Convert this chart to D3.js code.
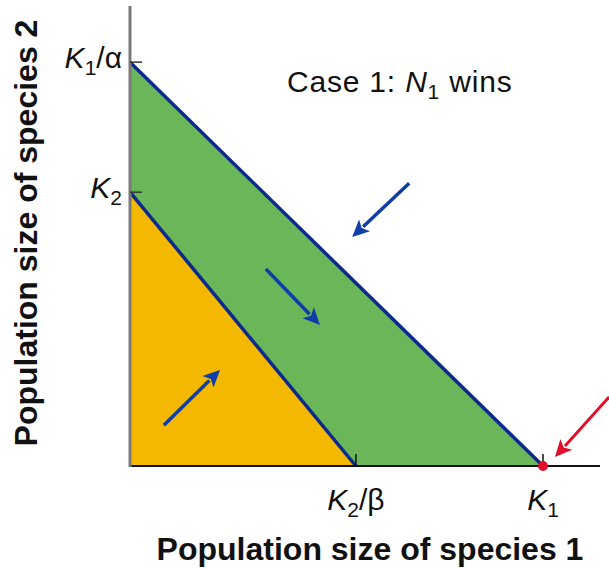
<!DOCTYPE html>
<html>
<head>
<meta charset="utf-8">
<script src="https://cdn.jsdelivr.net/npm/d3@7"></script>
<style>
  html, body { margin: 0; padding: 0; background: #fff; }
  svg { display: block; }
</style>
</head>
<body>
<svg id="chart" width="609" height="569"></svg>
<script>
// Lotka–Volterra competition: zero-growth isoclines (Case 1, N1 wins)
const K1 = 1.0;          // carrying capacity of species 1
const K1overAlpha = 1.0; // species 1 isocline intercept on N2 axis
const K2 = 0.678;        // carrying capacity of species 2
const K2overBeta = 0.547;// species 2 isocline intercept on N1 axis

const xTicks = [
  { value: K2overBeta, main: "K", sub: "2", tail: "/β" },
  { value: K1, main: "K", sub: "1", tail: "" }
];
const yTicks = [
  { value: K1overAlpha, main: "K", sub: "1", tail: "/α" },
  { value: K2, main: "K", sub: "2", tail: "" }
];

// trajectory arrows [from N1, from N2, to N1, to N2]
const blueArrows = [
  [0.676, 0.700, 0.538, 0.567],
  [0.329, 0.488, 0.460, 0.349],
  [0.082, 0.101, 0.218, 0.238]
];
const redArrows = [
  [1.160, 0.171, 1.029, 0.022]
];

const svg = d3.select("#chart");
const x = d3.scaleLinear().domain([0, 1.138]).range([130, 600]);
const y = d3.scaleLinear().domain([0, 1.139]).range([466, 6]);

const fontFam = "'Liberation Sans', Arial, Helvetica, sans-serif";
const green = "#6cb65a", yellow = "#f4b800", navy = "#0b2a8e", arrowBlue = "#0f3fa6", red = "#e0102a";

// regions
const line = d3.line().x(d => x(d[0])).y(d => y(d[1]));
svg.append("path")
  .attr("d", line([[0, K1overAlpha], [K1, 0], [K2overBeta, 0], [0, K2]]) + "Z")
  .attr("fill", green);
svg.append("path")
  .attr("d", line([[0, 0], [0, K2], [K2overBeta, 0]]) + "Z")
  .attr("fill", yellow);

// isoclines
svg.append("path").attr("d", line([[0, K1overAlpha], [K1, 0]]))
  .attr("stroke", navy).attr("stroke-width", 3.5).attr("fill", "none");
svg.append("path").attr("d", line([[0, K2], [K2overBeta, 0]]))
  .attr("stroke", navy).attr("stroke-width", 3.5).attr("fill", "none");

// axes
svg.append("line").attr("x1", x(0)).attr("x2", x(1.138)).attr("y1", y(0)).attr("y2", y(0))
  .attr("stroke", "#111").attr("stroke-width", 2);
svg.append("line").attr("x1", x(0)).attr("x2", x(0)).attr("y1", y(1.139)).attr("y2", y(0) + 1)
  .attr("stroke", "#7a7a7a").attr("stroke-width", 3);

// tick marks
xTicks.forEach(t => {
  svg.append("line").attr("x1", x(t.value)).attr("x2", x(t.value))
    .attr("y1", y(0)).attr("y2", y(0) - 12).attr("stroke", "#111").attr("stroke-width", 1.5);
});
yTicks.forEach(t => {
  svg.append("line").attr("x1", x(0)).attr("x2", x(0) + 12)
    .attr("y1", y(t.value)).attr("y2", y(t.value)).attr("stroke", "#333").attr("stroke-width", 1.5);
});

function richLabel(sel, t) {
  sel.append("tspan").attr("font-style", "italic").text(t.main);
  sel.append("tspan").attr("font-size", 21).attr("dy", 7).text(t.sub);
  if (t.tail) sel.append("tspan").attr("dy", -7).text(t.tail);
}

xTicks.forEach(t => {
  const txt = svg.append("text").attr("x", x(t.value)).attr("y", 510)
    .attr("text-anchor", "middle").attr("font-family", fontFam).attr("font-size", 30).attr("fill", "#111");
  richLabel(txt, t);
});
yTicks.forEach(t => {
  const txt = svg.append("text").attr("x", 122).attr("y", y(t.value) + 6)
    .attr("text-anchor", "end").attr("font-family", fontFam).attr("font-size", 30).attr("fill", "#111");
  richLabel(txt, t);
});

// annotation
const cap = svg.append("text").attr("x", 287).attr("y", 92)
  .attr("font-family", fontFam).attr("font-size", 30).attr("letter-spacing", 0.8).attr("fill", "#111");
cap.append("tspan").text("Case 1: ");
cap.append("tspan").attr("font-style", "italic").text("N");
cap.append("tspan").attr("font-size", 21).attr("dy", 7).text("1");
cap.append("tspan").attr("dy", -7).text(" wins");

// axis titles
svg.append("text").attr("x", 370).attr("y", 560).attr("text-anchor", "middle")
  .attr("font-family", fontFam).attr("font-weight", "bold").attr("font-size", 32).attr("fill", "#111")
  .text("Population size of species 1");
svg.append("text").attr("transform", "translate(37,233) rotate(-90)").attr("text-anchor", "middle")
  .attr("font-family", fontFam).attr("font-weight", "bold").attr("font-size", 32).attr("fill", "#111")
  .text("Population size of species 2");

// arrows
function arrow(d, color, sw) {
  const x1 = x(d[0]), y1 = y(d[1]), x2 = x(d[2]), y2 = y(d[3]);
  const ang = Math.atan2(y2 - y1, x2 - x1);
  const L = 17, W = 8;
  const bx = x2 - L * Math.cos(ang), by = y2 - L * Math.sin(ang);
  svg.append("line").attr("x1", x1).attr("y1", y1).attr("x2", bx + 2 * Math.cos(ang)).attr("y2", by + 2 * Math.sin(ang))
    .attr("stroke", color).attr("stroke-width", sw);
  const px = -Math.sin(ang), py = Math.cos(ang);
  svg.append("path")
    .attr("d", `M${x2},${y2}L${bx + W * px},${by + W * py}L${bx + 4 * Math.cos(ang)},${by + 4 * Math.sin(ang)}L${bx - W * px},${by - W * py}Z`)
    .attr("fill", color);
}
blueArrows.forEach(d => arrow(d, arrowBlue, 3.5));
redArrows.forEach(d => arrow(d, red, 3));

// equilibrium point
svg.append("circle").attr("cx", x(K1)).attr("cy", y(0)).attr("r", 5).attr("fill", red);
</script>
</body>
</html>
